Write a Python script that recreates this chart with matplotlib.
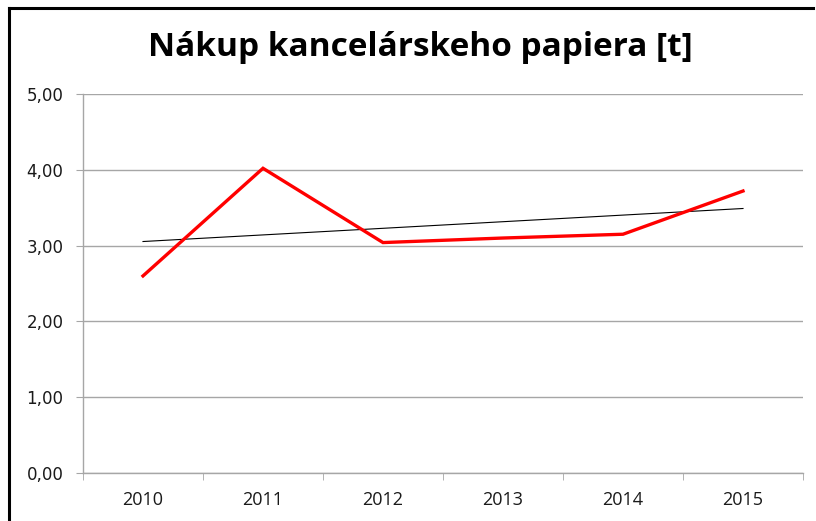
import numpy as np
import matplotlib
matplotlib.use("Agg")
import matplotlib.pyplot as plt
from matplotlib.ticker import FuncFormatter
from matplotlib.lines import Line2D

categories = ["2010", "2011", "2012", "2013", "2014", "2015"]
values = [2.60, 4.02, 3.04, 3.10, 3.15, 3.72]
y_ticks = [0, 1, 2, 3, 4, 5]
title = "Nákup kancelárskeho papiera [t]"

W, H = 816, 521
fig = plt.figure(figsize=(W / 100, H / 100), dpi=100)
fig.patch.set_facecolor("white")

left, right, top, bottom = 83, 803, 94, 473
ax = fig.add_axes([left / W, 1 - bottom / H, (right - left) / W, (bottom - top) / H])

x = np.arange(len(categories))
ax.plot(x, values, color="#ff0000", lw=2.4, solid_joinstyle="miter", zorder=3)

coef = np.polyfit(x, values, 1)
ax.plot(x, np.polyval(coef, x), color="black", lw=0.8, zorder=2)

ax.set_xlim(-0.5, len(categories) - 0.5)
ax.set_ylim(0, 5)
ax.set_yticks(y_ticks)
ax.yaxis.set_major_formatter(FuncFormatter(lambda v, p: f"{v:.2f}".replace(".", ",")))
ax.set_xticks(x)
ax.set_xticklabels(categories)
ax.set_xticks(np.arange(-0.5, len(categories), 1.0), minor=True)

grid_col = "#a6a6a6"
ax.grid(axis="y", color=grid_col, lw=1.0)
ax.set_axisbelow(True)
for s in ["top", "right"]:
    ax.spines[s].set_visible(False)
ax.spines["left"].set_color(grid_col)
ax.spines["bottom"].set_color(grid_col)
ax.spines["left"].set_linewidth(1.0)
ax.spines["bottom"].set_linewidth(1.0)

ax.tick_params(axis="y", direction="out", length=5, color=grid_col, pad=9,
               labelsize=12, labelcolor="#1a1a1a")
ax.tick_params(axis="x", which="major", length=0, pad=13, labelsize=13, labelcolor="#1a1a1a")
ax.tick_params(axis="x", which="minor", direction="out", length=5, color=grid_col)
for lab in ax.get_xticklabels():
    lab.set_fontfamily("Open Sans")
for lab in ax.get_yticklabels():
    lab.set_fontfamily("DejaVu Sans")

fig.text(420 / W, 1 - 48 / H, title, ha="center", va="center",
         fontsize=24, fontweight="bold", family="Open Sans", color="black")

# chart border (top and left)
fig.add_artist(Line2D([8.5 / W, 8.5 / W], [0, 1 - 8 / H], transform=fig.transFigure,
                      color="black", lw=2.2, solid_capstyle="projecting"))
fig.add_artist(Line2D([8.5 / W, 813 / W], [1 - 8 / H, 1 - 8 / H], transform=fig.transFigure,
                      color="black", lw=2.2, solid_capstyle="projecting"))

fig.savefig("out.png", dpi=100)
